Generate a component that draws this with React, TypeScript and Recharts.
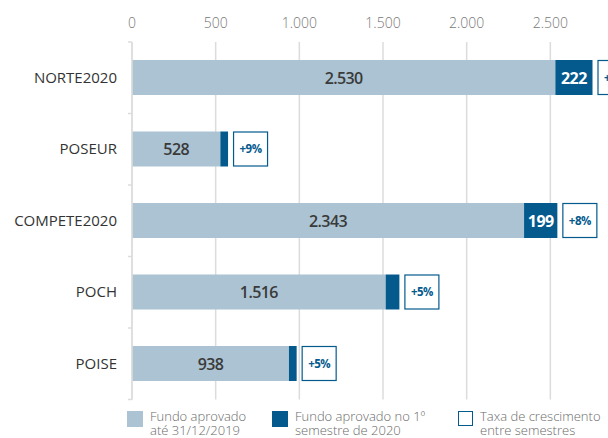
import { Bar, BarChart, CartesianGrid, LabelList, XAxis, YAxis } from "recharts";

const programs = ["NORTE2020", "POSEUR", "COMPETE2020", "POCH", "POISE"];
const approvedUntil2019 = [2530, 528, 2343, 1516, 938];
const approvedFirstSemester2020 = [222, 46, 199, 82, 46];
const growthRates = ["+9%", "+9%", "+8%", "+5%", "+5%"];
const axisTicks = [0, 500, 1000, 1500, 2000, 2500];

const legendItems = [
  { label: ["Fundo aprovado", "até 31/12/2019"], kind: "light" },
  { label: ["Fundo aprovado no 1º", "semestre de 2020"], kind: "dark" },
  { label: ["Taxa de crescimento", "entre semestres"], kind: "outline" },
];

const LIGHT = "#abc3d2";
const DARK = "#045a8d";
const GRID = "#dcdcdc";
const FONT = "'Open Sans', 'Noto Sans', sans-serif";

const chartData = programs.map((name, i) => ({
  name,
  base: approvedUntil2019[i],
  added: approvedFirstSemester2020[i],
  rate: growthRates[i],
}));

const fmt = (v: number) => String(v).replace(/\B(?=(\d{3})+(?!\d))/g, ".");

const PLOT_TOP = 42;
const PLOT_BOTTOM = 399.5;
const STEP = (PLOT_BOTTOM - PLOT_TOP) / programs.length;

function CategoryTick(props: any) {
  const { x, y, payload, index } = props;
  const last = index === programs.length - 1;
  return (
    <g>
      <line x1={x + 11} x2={x + 15} y1={y - STEP / 2} y2={y - STEP / 2} stroke={GRID} strokeWidth={1.5} />
      {last && (
        <line x1={x + 11} x2={x + 15} y1={y + STEP / 2} y2={y + STEP / 2} stroke={GRID} strokeWidth={1.5} />
      )}
      <text x={x} y={y} dy={5} textAnchor="end" fontSize={15} fill="#333" fontFamily={FONT}>
        {payload.value}
      </text>
    </g>
  );
}

function RateBox(props: any) {
  const { x, y, width, height, index } = props;
  const bx = x + width + 5;
  return (
    <g>
      <rect x={bx + 0.5} y={y + 0.5} width={34} height={height - 1} fill="#fff" stroke={DARK} strokeWidth={1.2} />
      <text
        x={bx + 17.5}
        y={y + height / 2}
        dy={4}
        textAnchor="middle"
        fontSize={11.5}
        fontWeight={700}
        fill={DARK}
        fontFamily={FONT}
        letterSpacing={-0.5}
      >
        {growthRates[index]}
      </text>
    </g>
  );
}

function AddedLabel(props: any) {
  const { x, y, width, height, value } = props;
  if (value < 150) return null;
  return (
    <text
      x={x + width / 2}
      y={y + height / 2}
      dy={6}
      textAnchor="middle"
      fontSize={16}
      fontWeight={700}
      fill="#fff"
      fontFamily={FONT}
      letterSpacing={-0.5}
    >
      {value}
    </text>
  );
}

function BaseLabel(props: any) {
  const { x, y, width, height, value } = props;
  return (
    <text
      x={x + width / 2}
      y={y + height / 2}
      dy={6}
      textAnchor="middle"
      fontSize={16}
      fontWeight={600}
      fill="#3a3a3a"
      fontFamily={FONT}
      letterSpacing={-0.6}
    >
      {fmt(value)}
    </text>
  );
}

function LegendSwatch({ kind }: { kind: string }) {
  const style: React.CSSProperties =
    kind === "outline"
      ? { width: 13, height: 13, border: `1.5px solid ${DARK}`, background: "#fff" }
      : { width: 16, height: 16, background: kind === "light" ? LIGHT : DARK };
  return <div style={{ ...style, flex: "none", marginTop: 1 }} />;
}

export default function App() {
  const lefts = [127, 272, 458];
  return (
    <div
      style={{
        position: "absolute",
        left: 0,
        top: 0,
        width: 608,
        height: 438,
        overflow: "hidden",
        background: "#fff",
        fontFamily: FONT,
      }}
    >
      <BarChart
        width={640}
        height={438}
        data={chartData}
        layout="vertical"
        barSize={35}
        margin={{ top: 0, right: 6, left: 0, bottom: 438 - PLOT_BOTTOM }}
      >
        <CartesianGrid horizontal={false} stroke={GRID} strokeWidth={1.5} />
        <XAxis
          type="number"
          orientation="top"
          domain={[0, 3000]}
          ticks={axisTicks}
          height={PLOT_TOP}
          axisLine={false}
          tickLine={false}
          tickSize={0}
          tickMargin={14}
          tickFormatter={fmt}
          tick={{ fontSize: 14, fill: "#777", fontFamily: FONT, fontWeight: 300 }}
        />
        <YAxis
          type="category"
          dataKey="name"
          width={132}
          axisLine={{ stroke: GRID, strokeWidth: 1.5 }}
          tickLine={false}
          tickSize={0}
          tickMargin={15}
          tick={<CategoryTick />}
        />
        <Bar dataKey="base" stackId="a" fill={LIGHT} isAnimationActive={false}>
          <LabelList dataKey="base" content={<BaseLabel />} />
        </Bar>
        <Bar dataKey="added" stackId="a" fill={DARK} isAnimationActive={false}>
          <LabelList dataKey="added" content={<AddedLabel />} />
          <LabelList dataKey="rate" content={<RateBox />} />
        </Bar>
      </BarChart>
      {legendItems.map((item, i) => (
        <div
          key={i}
          style={{
            position: "absolute",
            left: lefts[i],
            top: 410,
            display: "flex",
            gap: 7,
            alignItems: "flex-start",
          }}
        >
          <LegendSwatch kind={item.kind} />
          <div style={{ fontSize: 13, lineHeight: "13.5px", color: "#6b6b6b", fontWeight: 300 }}>
            {item.label.map((l) => (
              <div key={l} style={{ whiteSpace: "nowrap" }}>
                {l}
              </div>
            ))}
          </div>
        </div>
      ))}
    </div>
  );
}
